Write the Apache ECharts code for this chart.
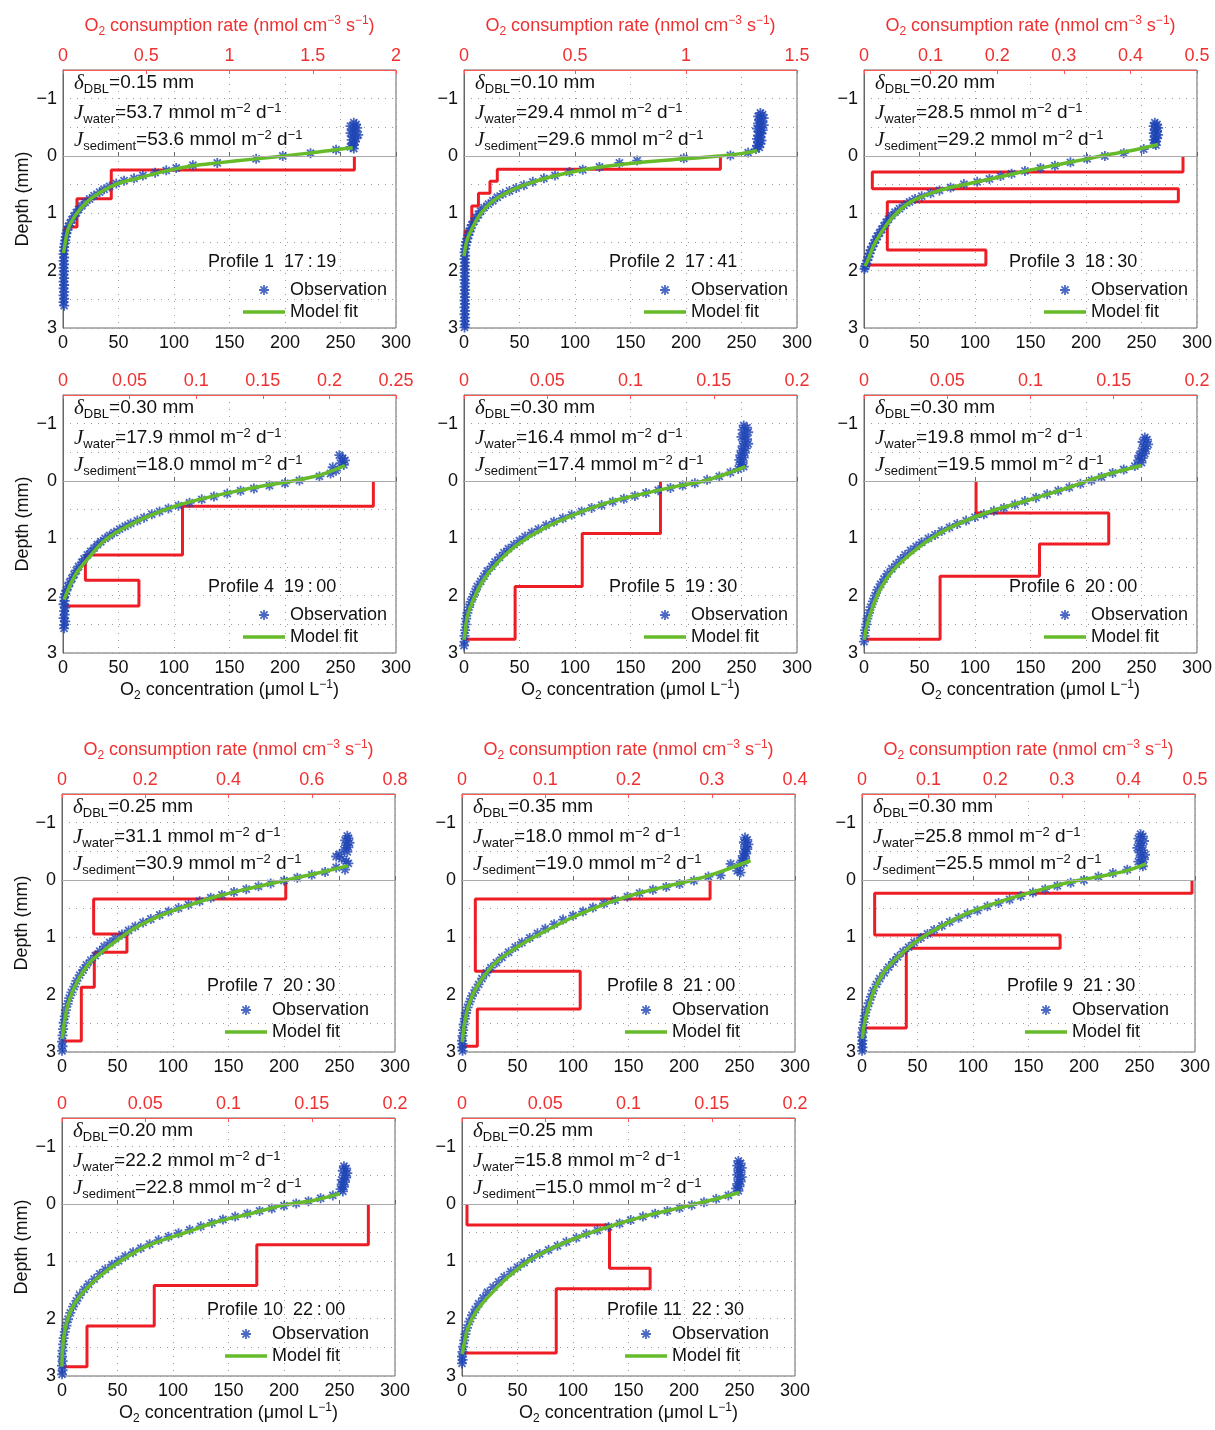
<!DOCTYPE html>
<html lang="en">
<head>
<meta charset="UTF-8">
<title>O2 microprofiles</title>
<script src="https://cdn.jsdelivr.net/npm/echarts@6/dist/echarts.min.js"></script>
</head>
<body style="margin:0;background:#fff">
<div id="main" style="width:1215px;height:1430px;"></div>
<script>
// ---- profile info ----
const profileNames = ['Profile 1  17\u2009:\u200919', 'Profile 2  17\u2009:\u200941', 'Profile 3  18\u2009:\u200930',
  'Profile 4  19\u2009:\u200900', 'Profile 5  19\u2009:\u200930', 'Profile 6  20\u2009:\u200900',
  'Profile 7  20\u2009:\u200930', 'Profile 8  21\u2009:\u200900', 'Profile 9  21\u2009:\u200930',
  'Profile 10  22\u2009:\u200900', 'Profile 11  22\u2009:\u200930'];
const dblThickness = ['0.15', '0.10', '0.20', '0.30', '0.30', '0.30', '0.25', '0.35', '0.30', '0.20', '0.25'];
const jWater = ['53.7', '29.4', '28.5', '17.9', '16.4', '19.8', '31.1', '18.0', '25.8', '22.2', '15.8'];
const jSediment = ['53.6', '29.6', '29.2', '18.0', '17.4', '19.5', '30.9', '19.0', '25.5', '22.8', '15.0'];
const rateMax = [2, 1.5, 0.5, 0.25, 0.2, 0.2, 0.8, 0.4, 0.5, 0.2, 0.2];
const rateInterval = [0.5, 0.5, 0.1, 0.05, 0.05, 0.05, 0.2, 0.1, 0.1, 0.05, 0.05];

// ---- observations [O2 (umol/L), depth (mm)] ----
const obs1 = [[262,-0.58],[264,-0.55],[259,-0.52],[265,-0.49],[261,-0.46],[263,-0.43],[259,-0.40],[266,-0.37],[261,-0.34],[264,-0.31],[260,-0.28],[263,-0.25],[261,-0.22],[262,-0.19],[259,-0.16],[262,-0.13],
  [246,-0.11],[223,-0.05],[198,0],[174,0.05],[139,0.12],[117,0.16],[102,0.21],[93,0.25],[83,0.29],[72,0.34],[64,0.39],[55,0.43],[48,0.48],[42,0.53],[37,0.58],[33,0.63],[28,0.69],[24,0.75],[20,0.81],[17,0.87],[14,0.93],[12,0.99],[10,1.05],[8,1.11],[6.5,1.17],[5,1.23],[4,1.29],[3,1.35],[2.5,1.41],[2,1.47],[1.5,1.53],[1,1.59],[1,1.65],[0.5,1.71],
  [1,1.77],[0.5,1.83],[1,1.89],[0.5,1.95],[1,2.01],[0.5,2.07],[1,2.13],[0.5,2.19],[1,2.25],[0.5,2.31],[1,2.37],[0.5,2.43],[1,2.49],[0.5,2.55],[1,2.61]];
const obs2 = [[267,-0.75],[269,-0.72],[265,-0.69],[270,-0.66],[266,-0.63],[268,-0.60],[265,-0.57],[270,-0.54],[267,-0.51],[264,-0.48],[269,-0.45],[266,-0.42],[268,-0.39],[265,-0.36],[267,-0.33],[264,-0.30],[268,-0.27],[265,-0.24],[267,-0.21],[264,-0.18],[266,-0.15],[263,-0.12],
  [256,-0.06],[240,-0.01],[198,0.04],[156,0.08],[140,0.12],[122,0.19],[107,0.24],[95,0.28],[82,0.34],[72,0.39],[62,0.45],[54,0.51],[47,0.56],[41,0.61],[35,0.66],[30,0.72],[26,0.78],[22,0.84],[18,0.90],[15,0.96],[13,1.02],[11,1.08],[9,1.14],[7,1.20],[6,1.26],[5,1.32],[4,1.38],[3,1.44],[2,1.50],[1.5,1.56],[1,1.62],[0.5,1.68],
  [1,1.74],[0.5,1.80],[1,1.86],[0.5,1.92],[1,1.98],[0.5,2.04],[1,2.10],[0.5,2.16],[1,2.22],[0.5,2.28],[1,2.34],[0.5,2.40],[1,2.46],[0.5,2.52],[1,2.58],[0.5,2.64],[1,2.70],[0.5,2.76],[1,2.82],[0.5,2.88],[1,2.94],[0.5,2.99]];
const obs3 = [[262,-0.58],[264,-0.55],[261,-0.52],[265,-0.49],[262,-0.46],[264,-0.43],[261,-0.40],[265,-0.37],[262,-0.34],[264,-0.31],[261,-0.28],[263,-0.25],[262,-0.22],[263,-0.19],
  [252,-0.12],[234,-0.05],[217,0],[201,0.05],[186,0.11],[172,0.17],[159,0.21],[145,0.26],[133,0.31],[123,0.35],[113,0.40],[102,0.45],[90,0.49],[78,0.55],[68,0.60],[60,0.65],[52,0.70],[46,0.75],[41,0.80],[36,0.86],[32,0.92],[28,0.98],[25,1.04],[22,1.10],[20,1.16],[18,1.22],[16,1.28],[14,1.34],[12,1.40],[10.5,1.46],[9,1.52],[7.5,1.58],[6,1.64],[5,1.70],[4,1.76],[3,1.82],[2,1.88],[1,1.93],[0.5,1.97]];
const obs4 = [[249,-0.45],[252,-0.40],[254,-0.36],[250,-0.31],[253,-0.28],[243,-0.24],[246,-0.18],[241,-0.13],
  [231,-0.08],[213,-0.01],[200,0.04],[186,0.08],[172,0.13],[160,0.17],[148,0.22],[136,0.27],[125,0.32],[114,0.38],[104,0.43],[95,0.48],[87,0.53],[80,0.58],[73,0.64],[67,0.69],[61,0.74],[56,0.79],[51,0.84],[46,0.90],[42,0.95],[38,1.00],[34,1.06],[31,1.11],[28,1.17],[25,1.23],[22,1.29],[19,1.36],[17,1.42],[14,1.49],[12,1.56],[10,1.63],[8,1.70],[6,1.77],[4.5,1.84],[3,1.91],[2,1.97],[1,2.03],
  [1.5,2.09],[0.5,2.15],[2,2.21],[1,2.27],[1.5,2.33],[0.5,2.39],[2,2.45],[1,2.51],[1,2.57]];
const obs5 = [[252,-0.97],[255,-0.93],[251,-0.89],[256,-0.85],[253,-0.81],[250,-0.77],[255,-0.73],[252,-0.69],[256,-0.65],[251,-0.61],[254,-0.57],[250,-0.53],[253,-0.49],[249,-0.45],[252,-0.41],[248,-0.37],[251,-0.33],[249,-0.29],[252,-0.25],[247,-0.21],
  [240,-0.15],[230,-0.08],[219,-0.02],[208,0.04],[197,0.08],[186,0.12],[175,0.16],[164,0.21],[154,0.26],[144,0.31],[134,0.36],[124,0.42],[115,0.47],[106,0.53],[97,0.59],[89,0.65],[81,0.71],[74,0.77],[67,0.84],[61,0.90],[55,0.97],[50,1.04],[45,1.11],[40,1.18],[36,1.25],[32,1.33],[28,1.41],[25,1.49],[21,1.57],[18,1.66],[15,1.75],[12,1.84],[10,1.93],[8,2.02],[6,2.11],[4.5,2.20],[3,2.30],[2,2.40],[1.5,2.50],[1,2.60],[0.5,2.70],[0.5,2.80],[0,2.87]];
const obs6 = [[253,-0.76],[255,-0.72],[251,-0.68],[256,-0.64],[252,-0.60],[254,-0.56],[250,-0.52],[253,-0.48],[248,-0.44],[251,-0.40],[247,-0.36],[250,-0.32],
  [244,-0.26],[234,-0.20],[224,-0.14],[214,-0.07],[205,-0.01],[195,0.05],[185,0.11],[175,0.17],[165,0.23],[155,0.29],[145,0.35],[136,0.41],[126,0.47],[117,0.52],[108,0.58],[100,0.63],[92,0.69],[84,0.75],[77,0.81],[70,0.87],[64,0.94],[58,1.00],[52,1.07],[47,1.14],[42,1.21],[37,1.29],[33,1.37],[29,1.45],[25,1.53],[21,1.62],[18,1.71],[15,1.80],[12,1.90],[10,2.00],[8,2.10],[6,2.20],[4.5,2.30],[3,2.40],[2,2.50],[1,2.60],[0.5,2.70],[0,2.80]];
const obs7 = [[257,-0.77],[258,-0.73],[255,-0.69],[259,-0.65],[256,-0.61],[258,-0.57],[254,-0.53],[257,-0.49],[250,-0.45],[247,-0.41],[252,-0.37],[256,-0.33],[258,-0.29],[247,-0.22],[255,-0.18],
  [237,-0.14],[225,-0.09],[212,-0.04],[200,0.01],[188,0.06],[177,0.11],[166,0.16],[155,0.21],[144,0.26],[134,0.31],[124,0.37],[114,0.43],[105,0.49],[96,0.55],[88,0.61],[80,0.68],[73,0.74],[66,0.81],[60,0.88],[54,0.95],[48,1.02],[43,1.09],[38,1.16],[34,1.24],[30,1.32],[26,1.40],[22,1.48],[19,1.57],[16,1.66],[13,1.76],[11,1.86],[8.5,1.96],[6.5,2.06],[5,2.16],[3.5,2.27],[2.5,2.38],[1.5,2.49],[1,2.60],[0.5,2.71],[0,2.82],[0.5,2.90],[0,2.98]];
const obs8 = [[255,-0.74],[257,-0.70],[254,-0.66],[258,-0.62],[255,-0.58],[257,-0.54],[254,-0.50],[256,-0.46],[253,-0.42],[255,-0.38],[252,-0.34],[254,-0.30],[242,-0.28],[250,-0.26],[248,-0.16],[251,-0.13],[233,-0.08],
  [222,-0.06],[209,0.01],[196,0.07],[184,0.12],[172,0.17],[160,0.23],[149,0.29],[138,0.35],[128,0.41],[118,0.48],[109,0.55],[100,0.62],[91,0.69],[83,0.77],[75,0.85],[68,0.93],[61,1.01],[54,1.09],[48,1.17],[42,1.26],[36,1.35],[31,1.44],[26,1.53],[22,1.62],[18,1.72],[15,1.82],[12,1.92],[9,2.02],[7,2.12],[5,2.22],[3.5,2.32],[2.5,2.42],[1.5,2.52],[1,2.62],[0.5,2.72],[0,2.80],[0.5,2.86],[0,2.92],[0.5,2.98]];
const obs9 = [[251,-0.80],[253,-0.76],[249,-0.72],[254,-0.68],[250,-0.64],[252,-0.60],[248,-0.56],[253,-0.52],[250,-0.48],[255,-0.44],[251,-0.40],[254,-0.36],[249,-0.32],[252,-0.28],[253,-0.24],
  [239,-0.18],[226,-0.12],[213,-0.06],[200,0],[188,0.05],[176,0.10],[165,0.16],[154,0.22],[143,0.28],[133,0.34],[123,0.40],[113,0.46],[104,0.53],[95,0.59],[87,0.66],[79,0.73],[72,0.80],[65,0.87],[59,0.94],[53,1.01],[47,1.09],[42,1.17],[37,1.25],[32,1.34],[28,1.43],[24,1.52],[20,1.62],[16,1.72],[13,1.82],[10,1.93],[8,2.04],[6,2.15],[4,2.26],[2.5,2.37],[1.5,2.48],[1,2.58],[0.5,2.66],[0,2.74],[0.5,2.80],[0,2.86],[0.5,2.92],[0,2.98]];
const obs10 = [[254,-0.66],[256,-0.62],[253,-0.58],[257,-0.54],[254,-0.50],[256,-0.46],[252,-0.42],[255,-0.38],[252,-0.34],[254,-0.30],[251,-0.26],[253,-0.22],
  [244,-0.15],[233,-0.10],[222,-0.05],[211,-0.01],[200,0.03],[189,0.08],[178,0.12],[167,0.17],[156,0.22],[145,0.27],[135,0.33],[125,0.39],[115,0.45],[105,0.51],[96,0.57],[87,0.63],[79,0.70],[71,0.77],[64,0.84],[57,0.91],[51,0.99],[45,1.06],[39,1.14],[34,1.22],[29,1.31],[24,1.40],[20,1.49],[16,1.59],[13,1.69],[10,1.79],[7.5,1.90],[5.5,2.01],[4,2.12],[2.5,2.23],[1.5,2.34],[1,2.45],[0.5,2.56],[0,2.66],[0.5,2.74],[0,2.82],[0.5,2.90],[0,2.97]];
const obs11 = [[249,-0.75],[251,-0.71],[248,-0.67],[252,-0.63],[249,-0.59],[251,-0.55],[248,-0.51],[252,-0.47],[249,-0.43],[251,-0.39],[248,-0.35],[250,-0.31],[247,-0.27],[249,-0.23],
  [240,-0.15],[229,-0.09],[218,-0.03],[207,0.02],[196,0.07],[185,0.12],[174,0.17],[163,0.22],[152,0.28],[142,0.34],[132,0.40],[122,0.46],[112,0.52],[103,0.59],[94,0.66],[86,0.73],[78,0.80],[70,0.87],[63,0.94],[56,1.02],[50,1.10],[44,1.18],[38,1.27],[33,1.36],[28,1.45],[23,1.54],[19,1.64],[15,1.74],[12,1.84],[9,1.94],[6.5,2.05],[4.5,2.16],[3,2.27],[2,2.38],[1,2.49],[0.5,2.58],[0,2.66],[0.5,2.72],[0,2.78]];

// ---- model fit [O2, depth] ----
const fit1 = [[261,-0.145],[246,-0.11],[222,-0.05],[198,0],[174,0.05],[139.5,0.12],[117,0.17],[93,0.26],[69,0.38],[48,0.49],[33,0.64],[21,0.81],[10.5,1.05],[4.5,1.28],[1.5,1.57],[0.5,1.69]];
const fit2 = [[264,-0.09],[252,-0.05],[231,0],[198,0.05],[160,0.11],[128,0.18],[102,0.26],[81,0.35],[60,0.47],[41.5,0.61],[26.5,0.78],[14.4,1.02],[6.9,1.28],[3,1.45],[0.9,1.63],[0,1.75]];
const fit3 = [[265,-0.2],[240,-0.09],[216,-0.01],[201,0.05],[172,0.16],[144,0.27],[114,0.40],[90,0.50],[68,0.60],[42,0.80],[26.5,1.05],[17.4,1.28],[8.4,1.57],[3.9,1.80],[0.9,1.92]];
const fit4 = [[254,-0.27],[245,-0.2],[231,-0.1],[207,0],[183,0.075],[153,0.19],[123,0.32],[99,0.45],[75,0.63],[54,0.83],[36,1.06],[24,1.32],[12,1.61],[4.5,1.90],[1,2.07]];
const fit5 = [[253.5,-0.25],[237,-0.13],[216,0],[192,0.09],[162,0.22],[132,0.36],[101.6,0.57],[71.5,0.83],[47.5,1.12],[29.5,1.44],[17.4,1.73],[8.4,2.07],[3,2.36],[0.9,2.65],[0,2.77]];
const fit6 = [[250,-0.27],[222,-0.13],[207,-0.04],[177,0.16],[147,0.34],[116.6,0.51],[89.6,0.71],[65.5,0.94],[44.5,1.23],[26.5,1.55],[14.4,1.90],[6.9,2.25],[2.4,2.54],[0.3,2.77]];
const fit7 = [[258,-0.25],[232.5,-0.13],[202.5,0],[172.5,0.13],[142.5,0.27],[112.5,0.45],[88.5,0.62],[64.5,0.85],[43.5,1.14],[25.5,1.43],[13.5,1.78],[6,2.13],[2.1,2.48],[0.3,2.77]];
const fit8 = [[260,-0.34],[235,-0.16],[214,-0.03],[193,0.07],[163,0.21],[133,0.39],[103,0.62],[76,0.88],[52,1.14],[31,1.43],[16,1.78],[7,2.13],[2.4,2.48],[0.3,2.83]];
const fit9 = [[256,-0.28],[238,-0.16],[211,-0.05],[187,0.04],[157,0.19],[127,0.36],[97,0.56],[73,0.79],[52,1.03],[37,1.26],[22,1.55],[11.4,1.90],[5.4,2.25],[1.8,2.54],[0.3,2.77]];
const fit10 = [[250.5,-0.18],[226.5,-0.06],[199.5,0.02],[169.5,0.17],[139.5,0.31],[109.5,0.51],[79.5,0.71],[55.5,0.96],[34.5,1.25],[19.5,1.53],[9,1.82],[3,2.16],[0.6,2.50],[0,2.84]];
const fit11 = [[250,-0.2],[223,-0.06],[193,0.08],[163,0.22],[133,0.39],[103,0.59],[79,0.79],[58,1.02],[40,1.30],[25,1.59],[13,1.87],[5.4,2.16],[1.8,2.45],[0.3,2.62]];

// ---- consumption rate (nmol cm-3 s-1) per depth layer, and layer boundaries (mm) ----
const rate1 = [1.75, 0.29, 0.084, 0.014];            const rateDepth1 = [0, 0.245, 0.745, 1.24, 1.73];
const rate2 = [1.155, 0.15, 0.117, 0.065, 0.035, 0.005]; const rateDepth2 = [0, 0.23, 0.44, 0.65, 0.87, 1.31, 1.98];
const rate3 = [0.479, 0.0125, 0.472, 0.035, 0.183];  const rateDepth3 = [0, 0.28, 0.57, 0.80, 1.64, 1.90];
const rate4 = [0.233, 0.0897, 0.0168, 0.057];        const rateDepth4 = [0, 0.44, 1.29, 1.73, 2.18];
const rate5 = [0.118, 0.071, 0.0307];                const rateDepth5 = [0, 0.915, 1.84, 2.76];
const rate6 = [0.0673, 0.147, 0.1054, 0.0457];       const rateDepth6 = [0, 0.556, 1.10, 1.66, 2.76];
const rate7 = [0.5376, 0.076, 0.156, 0.0776, 0.0464]; const rateDepth7 = [0, 0.33, 0.94, 1.26, 1.87, 2.81];
const rate8 = [0.298, 0.016, 0.142, 0.0184];         const rateDepth8 = [0, 0.33, 1.59, 2.25, 2.90];
const rate9 = [0.4955, 0.019, 0.2975, 0.0665];       const rateDepth9 = [0, 0.23, 0.96, 1.19, 2.58];
const rate10 = [0.184, 0.117, 0.0554, 0.015];        const rateDepth10 = [0, 0.71, 1.42, 2.13, 2.84];
const rate11 = [0.003, 0.0886, 0.113, 0.0566];       const rateDepth11 = [0, 0.365, 1.12, 1.48, 2.60];

const o2Ticks = { min: 0, max: 300, interval: 50 };
const depthTicks = { min: -1.5, max: 3, interval: 0.5 };
</script>
<script>
var chartDom = document.getElementById('main');
var myChart = echarts.init(chartDom);

var obsList = [obs1, obs2, obs3, obs4, obs5, obs6, obs7, obs8, obs9, obs10, obs11];
var fitList = [fit1, fit2, fit3, fit4, fit5, fit6, fit7, fit8, fit9, fit10, fit11];
var rateList = [rate1, rate2, rate3, rate4, rate5, rate6, rate7, rate8, rate9, rate10, rate11];
var rateDepthList = [rateDepth1, rateDepth2, rateDepth3, rateDepth4, rateDepth5, rateDepth6,
  rateDepth7, rateDepth8, rateDepth9, rateDepth10, rateDepth11];

// panel boxes
var rowTop = [70, 395, 794, 1118];
var colLeft = [[63, 464, 864], [63, 464, 864], [62, 462, 862], [62, 462, 862]];
var plotW = 333, plotH = 258;

var BLUE = '#1f45b5', GREEN = '#66bb2a', RED = '#ee1c25', FRAME = '#666';
var FONT = 'Liberation Sans';
var asterisk = 'path://M-1.8,-10L1.8,-10L1.8,10L-1.8,10Z M-10,-1.8L10,-1.8L10,1.8L-10,1.8Z ' +
  'M-5.8,-8.35L8.35,5.8L5.8,8.35L-8.35,-5.8Z M8.35,-5.8L-5.8,8.35L-8.35,5.8L5.8,-8.35Z';
var fitIcon = 'path://M0,0L42,0L42,3.5L0,3.5Z';

function richStyles(color) {
  return {
    n: { fontFamily: FONT, fontSize: 19, fontWeight: 'normal', lineHeight: 20, color: color, verticalAlign: 'middle' },
    it: { fontFamily: 'Liberation Serif', fontStyle: 'italic', fontWeight: 'normal', fontSize: 21, lineHeight: 20, color: color, verticalAlign: 'middle' },
    sub: { fontFamily: FONT, fontSize: 13, fontWeight: 'normal', lineHeight: 13, padding: [12, 0, 0, 0], color: color, verticalAlign: 'middle' },
    sup: { fontFamily: FONT, fontSize: 13, fontWeight: 'normal', lineHeight: 13, padding: [0, 0, 10, 0], color: color, verticalAlign: 'middle' }
  };
}
function axisRich(color) {
  var r = richStyles(color);
  r.n.fontSize = 18;
  r.sub.fontSize = 12;
  r.sup.fontSize = 12;
  return r;
}

// consumption rate as a step profile along depth
function stepLine(rates, bounds) {
  var pts = [];
  rates.forEach(function (r, i) {
    pts.push([r, bounds[i]]);
    pts.push([r, bounds[i + 1]]);
  });
  pts.push([0, bounds[bounds.length - 1]]);
  return pts;
}

var grids = [], xAxes = [], yAxes = [], series = [], titles = [], legends = [];

for (var k = 0; k < 11; k++) {
  var row = Math.floor(k / 3), col = k % 3;
  var pLeft = colLeft[row][col], pTop = rowTop[row];

  grids.push({ left: pLeft, top: pTop, width: plotW, height: plotH, show: true, borderColor: FRAME, borderWidth: 1 });

  // bottom axis: O2 concentration
  xAxes.push({
    type: 'value', gridIndex: k, position: 'bottom',
    min: o2Ticks.min, max: o2Ticks.max, interval: o2Ticks.interval,
    name: (row === 1 || row === 3) ? '{n|O}{sub|2}{n| concentration (μmol L}{sup|−1}{n|)}' : '',
    nameLocation: 'middle', nameGap: 27,
    nameTextStyle: { rich: axisRich('#111') },
    axisLine: { show: true, lineStyle: { color: FRAME, width: 1 } },
    axisTick: { show: true, inside: true, length: 4, lineStyle: { color: FRAME } },
    axisLabel: { fontFamily: FONT, fontSize: 18, color: '#111', margin: 6 },
    splitLine: { show: true, lineStyle: { color: '#999', type: [1, 6], width: 1 } }
  });
  // top axis: O2 consumption rate
  xAxes.push({
    type: 'value', gridIndex: k, position: 'top',
    min: 0, max: rateMax[k], interval: rateInterval[k],
    name: (row === 0 || row === 2) ? '{n|O}{sub|2}{n| consumption rate (nmol cm}{sup|−3}{n| s}{sup|−1}{n|)}' : '',
    nameLocation: 'middle', nameGap: 34,
    nameTextStyle: { rich: axisRich('#f03030') },
    axisLine: { show: true, lineStyle: { color: '#f55', width: 1 } },
    axisTick: { show: true, inside: true, length: 4, lineStyle: { color: '#f55' } },
    axisLabel: { fontFamily: FONT, fontSize: 18, color: '#f03030', margin: 5 },
    splitLine: { show: false }
  });
  yAxes.push({
    type: 'value', gridIndex: k, inverse: true,
    min: depthTicks.min, max: depthTicks.max, interval: depthTicks.interval,
    name: col === 0 ? 'Depth (mm)' : '',
    nameLocation: 'middle', nameGap: 31,
    nameTextStyle: { fontFamily: FONT, fontSize: 18, color: '#111' },
    axisLine: { show: true, lineStyle: { color: FRAME, width: 1 } },
    axisTick: { show: false },
    axisLabel: {
      fontFamily: FONT, fontSize: 18, color: '#111', margin: 6,
      formatter: function (v) { return Number.isInteger(v) ? String(v).replace('-', '−') : ''; }
    },
    splitLine: { show: true, lineStyle: { color: '#999', type: [1, 6], width: 1 } }
  });

  series.push({
    name: 'Rate', type: 'line', xAxisIndex: 2 * k + 1, yAxisIndex: k,
    data: stepLine(rateList[k], rateDepthList[k]),
    symbol: 'none', lineStyle: { color: RED, width: 3 }, z: 2, silent: true
  });
  series.push({
    name: 'Observation', type: 'scatter', xAxisIndex: 2 * k, yAxisIndex: k,
    data: obsList[k], symbol: asterisk, symbolSize: 10,
    itemStyle: { color: BLUE }, z: 3
  });
  series.push({
    name: 'Model fit', type: 'line', xAxisIndex: 2 * k, yAxisIndex: k,
    data: fitList[k], smooth: 0.3, symbol: 'none',
    itemStyle: { color: GREEN },
    lineStyle: { color: GREEN, width: 3.5 }, z: 4,
    markLine: {
      silent: true, symbol: 'none', label: { show: false },
      lineStyle: { color: '#aaa', width: 1, type: 'solid' },
      data: [{ yAxis: 0 }]
    }
  });

  var tStyle = { fontWeight: 'normal', rich: richStyles('#111') };
  titles.push({ left: pLeft + 11, top: pTop + 3, padding: 0,
    text: '{it|δ}{sub|DBL}{n|=' + dblThickness[k] + ' mm}', textStyle: tStyle });
  titles.push({ left: pLeft + 11, top: pTop + 33, padding: 0,
    text: '{it|J}{sub|water}{n|=' + jWater[k] + ' mmol m}{sup|−2}{n| d}{sup|−1}', textStyle: tStyle });
  titles.push({ left: pLeft + 11, top: pTop + 60, padding: 0,
    text: '{it|J}{sub|sediment}{n|=' + jSediment[k] + ' mmol m}{sup|−2}{n| d}{sup|−1}', textStyle: tStyle });
  titles.push({ left: pLeft + 145, top: pTop + 182, padding: 0,
    text: profileNames[k], textStyle: { fontFamily: FONT, fontSize: 18, lineHeight: 20, fontWeight: 'normal', color: '#111' } });

  var shift = row < 2 ? 180 : 163;
  legends.push({
    left: pLeft + shift, top: pTop + (row < 2 ? 210 : 206), orient: 'vertical',
    padding: 0, itemGap: 2, itemWidth: 42, itemHeight: 10,
    data: [{ name: 'Observation', icon: asterisk }, { name: 'Model fit', icon: fitIcon }],
    textStyle: { fontFamily: FONT, fontSize: 18, lineHeight: 20, color: '#111' },
    selectedMode: false
  });
}

var option = {
  animation: false,
  textStyle: { fontFamily: FONT },
  title: titles,
  legend: legends,
  grid: grids,
  xAxis: xAxes,
  yAxis: yAxes,
  series: series
};

option && myChart.setOption(option);
</script>
</body>
</html>
